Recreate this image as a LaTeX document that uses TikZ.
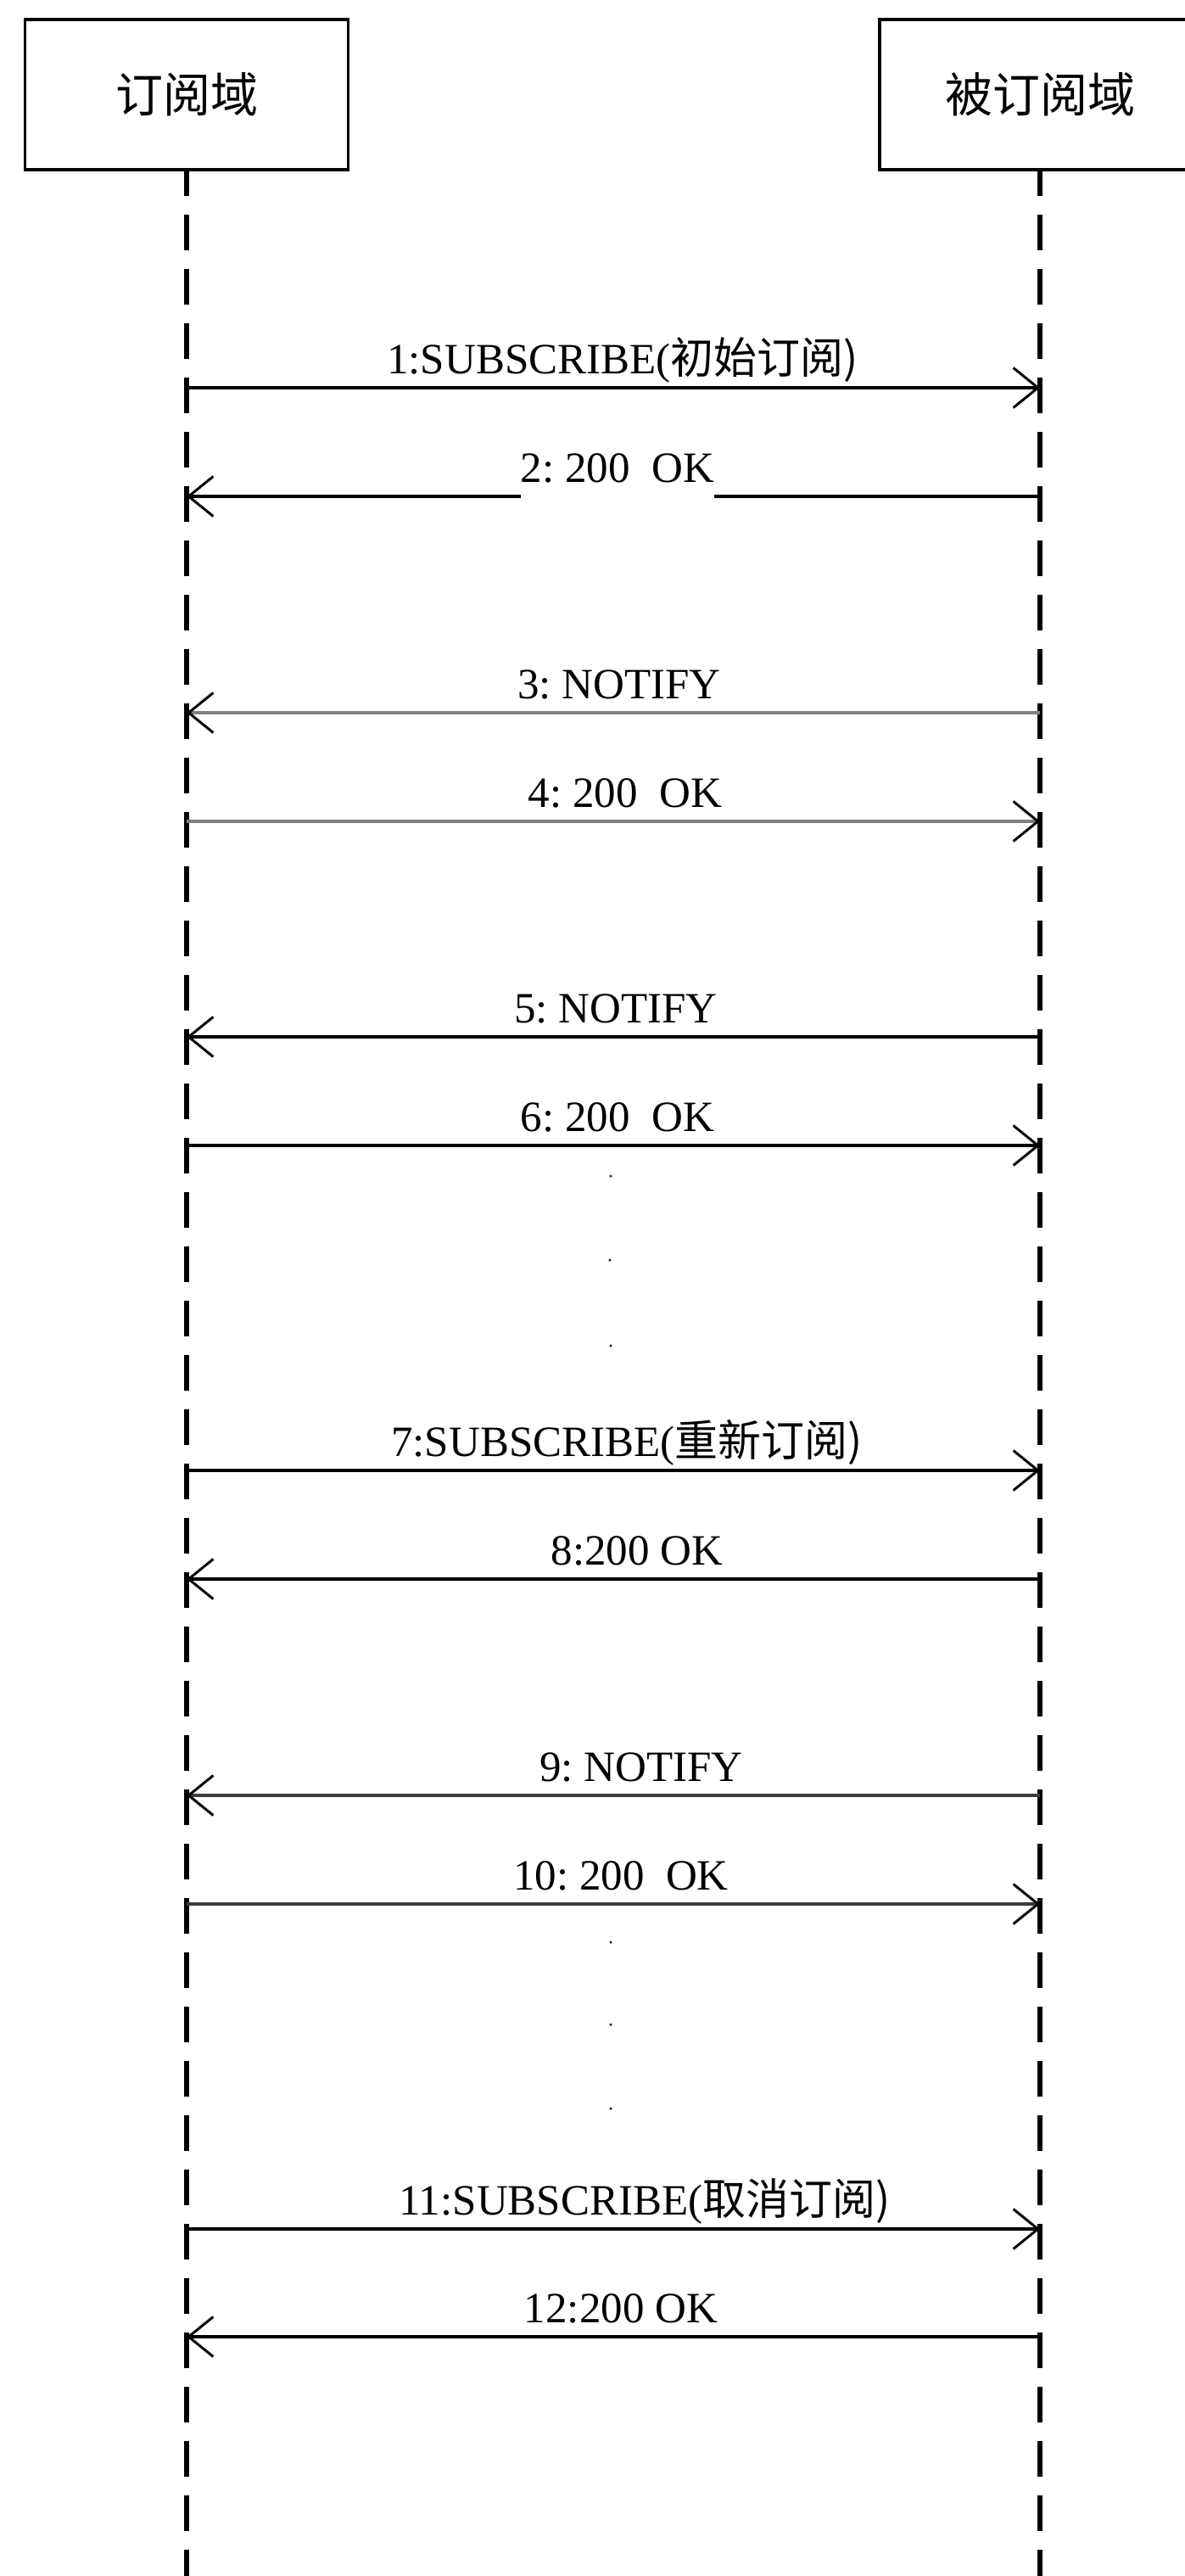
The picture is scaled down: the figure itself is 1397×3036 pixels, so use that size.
\documentclass[tikz,border=0pt]{standalone}
\usepackage{fontspec}
\setmainfont{Liberation Serif}
\newfontfamily\cjk{Noto Sans CJK SC}
\usetikzlibrary{arrows.meta}
\definecolor{msggray}{RGB}{128,128,128}
\definecolor{msgdark}{RGB}{60,60,60}
\begin{document}
\begin{tikzpicture}[x=1pt,y=-1pt,
  lifebox/.style={draw=black, line width=3.5pt, minimum width=381pt, minimum height=177pt,
    inner sep=0pt, outer sep=0pt, font=\cjk\fontsize{56}{60}\selectfont},
  lifeline/.style={line width=6pt, dash pattern=on 42pt off 22pt, dash phase=11pt},
  msg/.style={line width=4pt, -{Straight Barb[length=29pt,width=47pt,line width=3pt,color=black]}},
  lbl/.style={anchor=base, inner sep=0pt, font=\fontsize{51}{60}\selectfont},
  dotmark/.style={circle, fill=black!85, inner sep=0pt, minimum size=3.5pt}
]
\useasboundingbox (0,0) rectangle (1397,3036);
\clip (0,0) rectangle (1397,3036);
\fill[white] (0,0) rectangle (1397,3036);

% lifeline heads
\node[lifebox] (A) at (220,111.5) {订阅域};
\node[lifebox, minimum width=378pt] (B) at (1226,111.5) {被订阅域};

% lifelines
\coordinate (Aend) at (220,3040);
\coordinate (Bend) at (1226,3040);
\draw[lifeline] (A.south) -- (Aend);
\draw[lifeline] (B.south) -- (Bend);

% message end points
\foreach \i/\y in {1/457,2/585,3/840,4/968,5/1222,6/1350,7/1733,8/1861,9/2116,10/2244,11/2627,12/2754}{
  \coordinate (L\i) at (220,\y);
  \coordinate (R\i) at (1226,\y);
}

% messages
\draw[msg] (L1) -- (R1);
\draw[msg] (R2) -- (L2);
\draw[msg, draw=msggray] (R3) -- (L3);
\draw[msg, draw=msggray] (L4) -- (R4);
\draw[msg] (R5) -- (L5);
\draw[msg] (L6) -- (R6);
\draw[msg] (L7) -- (R7);
\draw[msg] (R8) -- (L8);
\draw[msg, draw=msgdark] (R9) -- (L9);
\draw[msg, draw=msgdark] (L10) -- (R10);
\draw[msg] (L11) -- (R11);
\draw[msg] (R12) -- (L12);

% labels
\node[lbl] (t1) at (734,440) {1:SUBSCRIBE(\cjk{初始订阅})};
\node[lbl, fill=white, text depth=22pt] (t2) at (728,568) {2:\ 200\ \ OK};
\node[lbl] (t3) at (730,823) {3:\ NOTIFY};
\node[lbl] (t4) at (737,951) {4:\ 200\ \ OK};
\node[lbl] (t5) at (726,1205) {5:\ NOTIFY};
\node[lbl] (t6) at (728,1333) {6:\ 200\ \ OK};
\node[lbl] (t7) at (739,1716) {7:SUBSCRIBE(\cjk{重新订阅})};
\node[lbl] (t8) at (751,1844) {8:200 OK};
\node[lbl] (t9) at (756,2099) {9:\ NOTIFY};
\node[lbl] (t10) at (732,2227) {10:\ 200\ \ OK};
\node[lbl] (t11) at (760,2610) {11:SUBSCRIBE(\cjk{取消订阅})};
\node[lbl] (t12) at (732,2737) {12:200 OK};

% continuation dots
\node[dotmark] (d1) at (720,1386) {};
\node[dotmark] (d2) at (719,1485) {};
\node[dotmark] (d3) at (720,1586) {};
\node[dotmark] (d4) at (720,2289) {};
\node[dotmark] (d5) at (720,2386) {};
\node[dotmark] (d6) at (720,2485) {};
\end{tikzpicture}
\end{document}
